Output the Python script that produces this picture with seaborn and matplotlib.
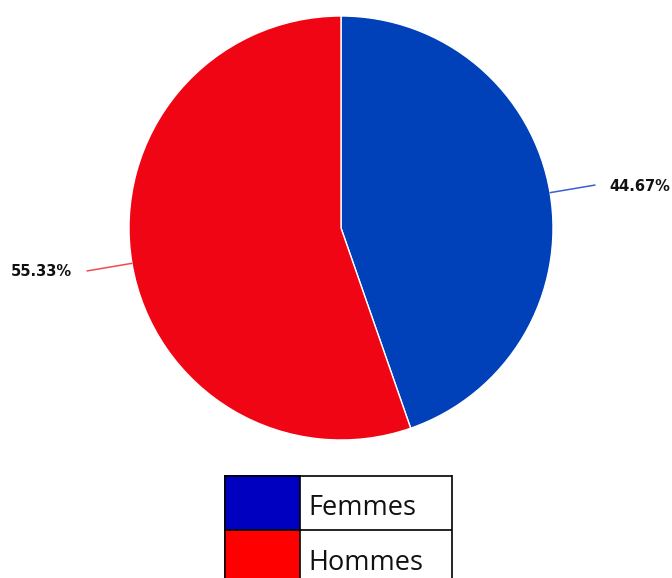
import numpy as np
import matplotlib
matplotlib.use("Agg")
import matplotlib.pyplot as plt
import seaborn as sns
from matplotlib.patches import Rectangle

categories = ["Femmes", "Hommes"]
shares = [44.67, 55.33]
pie_colors = ["#0040B9", "#F00514"]
legend_colors = ["#0000C0", "#FF0000"]
line_colors = ["#3A5FD0", "#F24A55"]

sns.set_theme(style="white")
plt.rcParams["font.family"] = ["DejaVu Sans"]

W, H = 672, 578
fig = plt.figure(figsize=(W / 100, H / 100), dpi=100)

# pie axes laid over the whole figure, 212 px per data unit, centre at (341, 228)
cx, cy, R = 341, 228, 212
ax = fig.add_axes([0, 0, 1, 1])
wedges, _ = ax.pie(shares, colors=pie_colors, startangle=90, counterclock=False,
                   radius=1, wedgeprops=dict(edgecolor="white", linewidth=1))
ax.set_xlim(-cx / R, (W - cx) / R)
ax.set_ylim(-(H - cy) / R, cy / R)
ax.axis("off")

# leader lines + percentage labels
for w, val, lc in zip(wedges, shares, line_colors):
    mid = np.deg2rad((w.theta1 + w.theta2) / 2)
    x0, y0 = np.cos(mid), np.sin(mid)
    x1, y1 = 1.215 * x0, 1.215 * y0
    ax.plot([x0, x1], [y0, y1], color=lc, lw=1.1, clip_on=False)
    side = 1 if x1 > 0 else -1
    ax.text(x1 + side * 0.07, y1 - 0.005, f"{val:.2f}%", ha="left" if side > 0 else "right",
            va="center", fontsize=10.5, fontweight="bold", color="#111111")

# table-like legend below the pie
lx, ly, lw_, lh = 224, 475, 228, 103
lax = fig.add_axes([lx / W, 0, lw_ / W, lh / H])
lax.set_xlim(0, lw_)
lax.set_ylim(lh, 0)
lax.axis("off")
row_h = 55
for i, (lab, col) in enumerate(zip(categories, legend_colors)):
    top = i * row_h
    lax.add_patch(Rectangle((0, top), 76, row_h, facecolor=col, edgecolor="none"))
    lax.text(84, top + 40, lab, ha="left", va="baseline", fontsize=19.5,
             family=["Open Sans", "DejaVu Sans"], color="#111111")
kw = dict(color="black", lw=1.2, clip_on=False, solid_capstyle="butt")
lax.plot([0.5, 0.5], [0, lh], **kw)
lax.plot([lw_ - 0.5, lw_ - 0.5], [0, lh], **kw)
lax.plot([76, 76], [0, lh], **kw)
lax.plot([0, lw_], [0.5, 0.5], **kw)
lax.plot([0, lw_], [row_h, row_h], **kw)

fig.savefig("out.png", dpi=100)
